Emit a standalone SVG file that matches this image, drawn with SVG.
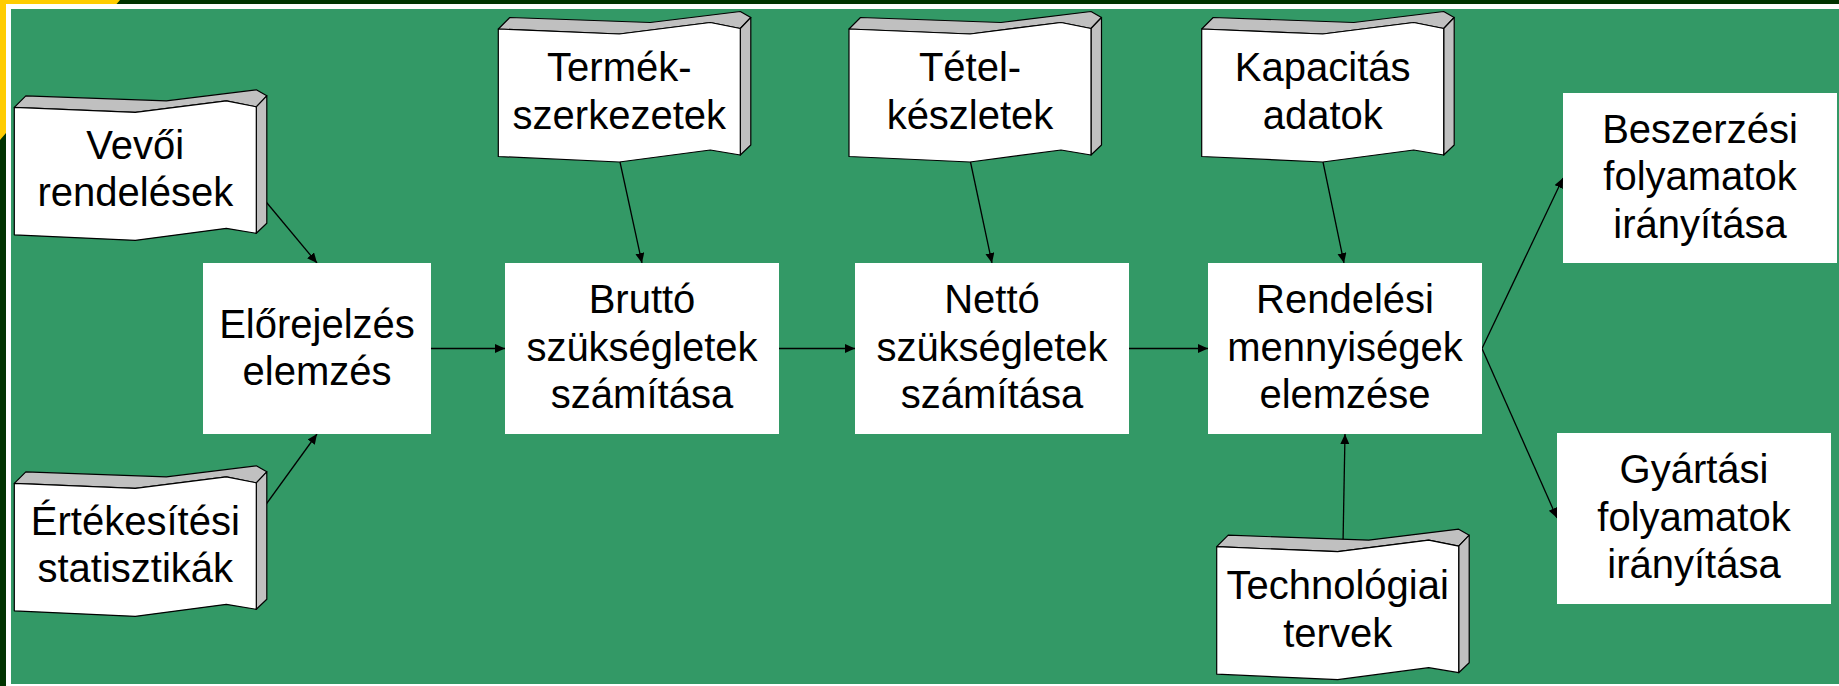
<svg xmlns="http://www.w3.org/2000/svg" xmlns:xlink="http://www.w3.org/1999/xlink" width="1839" height="686" viewBox="0 0 1839 686">
<style>
.box{fill:#ffffff;stroke:none}
.t{font-family:"Liberation Sans",Arial,sans-serif;font-size:40px;fill:#000000;text-anchor:middle}
.front{fill:#ffffff;stroke:#000000;stroke-width:1.2;stroke-linejoin:round}
.side{fill:#c0c0c0;stroke:#000000;stroke-width:1.2;stroke-linejoin:round}
.c{stroke:#000000;stroke-width:1.3;fill:none;marker-end:url(#ah)}
</style>
<defs>
<marker id="ah" markerUnits="userSpaceOnUse" markerWidth="11" markerHeight="10" refX="10" refY="4.5" orient="auto">
<path d="M0,0 L10,4.5 L0,9 Z" fill="#000000"/>
</marker>
<g id="wave">
<path class="side" d="M0,0 L11.5,-11.5 L152,-6.5 L242,-17.5 L252.5,-11.5 L242,-0.5 L212,-6.5 L121,5 Z"/>
<path class="side" d="M242,-0.5 L252.5,-11.5 L252.5,116 L242,126 Z"/>
<path class="front" d="M0,0 L121,5 L212,-6.5 L242,-0.5 L242,126 L212,121 L121,133 L0,127.5 Z"/>
</g>
</defs>
<rect x="0" y="0" width="1839" height="686" fill="#003300"/>
<polygon points="0,0 120,0 0,140" fill="#ffcc00"/>
<rect x="6" y="4" width="1840" height="690" fill="#ffffff"/>
<rect x="11" y="9" width="1835" height="675" fill="#339966"/>

<g id="connectors">
<line class="c" x1="262" y1="197" x2="317" y2="263"/>
<line class="c" x1="262" y1="510" x2="317" y2="434"/>
<line class="c" x1="620" y1="162" x2="642" y2="263"/>
<line class="c" x1="970.5" y1="162" x2="992" y2="263"/>
<line class="c" x1="1323" y1="162" x2="1344" y2="263"/>
<line class="c" x1="1343" y1="544" x2="1345" y2="434"/>
<line class="c" x1="431" y1="348.5" x2="505" y2="348.5"/>
<line class="c" x1="779" y1="348.5" x2="855" y2="348.5"/>
<line class="c" x1="1129" y1="348.5" x2="1208" y2="348.5"/>
<line class="c" x1="1482" y1="348.5" x2="1563" y2="178"/>
<line class="c" x1="1482" y1="348.5" x2="1557" y2="518"/>
</g>

<g id="vevoi">
<use xlink:href="#wave" x="14.3" y="107.3"/>
<text class="t" x="135.3"><tspan x="135.3" y="158.5">Vevői</tspan><tspan x="135.3" y="206.3">rendelések</tspan></text>
</g>
<g id="ertekesitesi">
<use xlink:href="#wave" x="14.3" y="483.3"/>
<text class="t" x="135.3"><tspan x="135.3" y="534.5">Értékesítési</tspan><tspan x="135.3" y="582.3">statisztikák</tspan></text>
</g>
<g id="termek">
<use xlink:href="#wave" x="498.3" y="29"/>
<text class="t" x="619.3"><tspan x="619.3" y="81">Termék-</tspan><tspan x="619.3" y="129">szerkezetek</tspan></text>
</g>
<g id="tetel">
<use xlink:href="#wave" x="849" y="29"/>
<text class="t" x="970"><tspan x="970" y="81">Tétel-</tspan><tspan x="970" y="129">készletek</tspan></text>
</g>
<g id="kapacitas">
<use xlink:href="#wave" x="1201.7" y="29"/>
<text class="t" x="1322.7"><tspan x="1322.7" y="81">Kapacitás</tspan><tspan x="1322.7" y="129">adatok</tspan></text>
</g>
<g id="technologiai">
<use xlink:href="#wave" x="1216.7" y="546.7"/>
<text class="t" x="1337.7"><tspan x="1337.7" y="598.5">Technológiai</tspan><tspan x="1337.7" y="646.5">tervek</tspan></text>
</g>

<g id="elorejelzes">
<rect class="box" x="203" y="263" width="228" height="171"/>
<text class="t" x="317"><tspan x="317" y="337.5">Előrejelzés</tspan><tspan x="317" y="384.5">elemzés</tspan></text>
</g>
<g id="brutto">
<rect class="box" x="505" y="263" width="274" height="171"/>
<text class="t" x="642"><tspan x="642" y="313">Bruttó</tspan><tspan x="642" y="360.5">szükségletek</tspan><tspan x="642" y="408">számítása</tspan></text>
</g>
<g id="netto">
<rect class="box" x="855" y="263" width="274" height="171"/>
<text class="t" x="992"><tspan x="992" y="313">Nettó</tspan><tspan x="992" y="360.5">szükségletek</tspan><tspan x="992" y="408">számítása</tspan></text>
</g>
<g id="rendelesi">
<rect class="box" x="1208" y="263" width="274" height="171"/>
<text class="t" x="1345"><tspan x="1345" y="313">Rendelési</tspan><tspan x="1345" y="360.5">mennyiségek</tspan><tspan x="1345" y="408">elemzése</tspan></text>
</g>
<g id="beszerzesi">
<rect class="box" x="1563" y="93" width="274" height="170"/>
<text class="t" x="1700"><tspan x="1700" y="142.7">Beszerzési</tspan><tspan x="1700" y="190.2">folyamatok</tspan><tspan x="1700" y="237.7">irányítása</tspan></text>
</g>
<g id="gyartasi">
<rect class="box" x="1557" y="433" width="274" height="171"/>
<text class="t" x="1694"><tspan x="1694" y="483">Gyártási</tspan><tspan x="1694" y="530.5">folyamatok</tspan><tspan x="1694" y="578">irányítása</tspan></text>
</g>
</svg>
